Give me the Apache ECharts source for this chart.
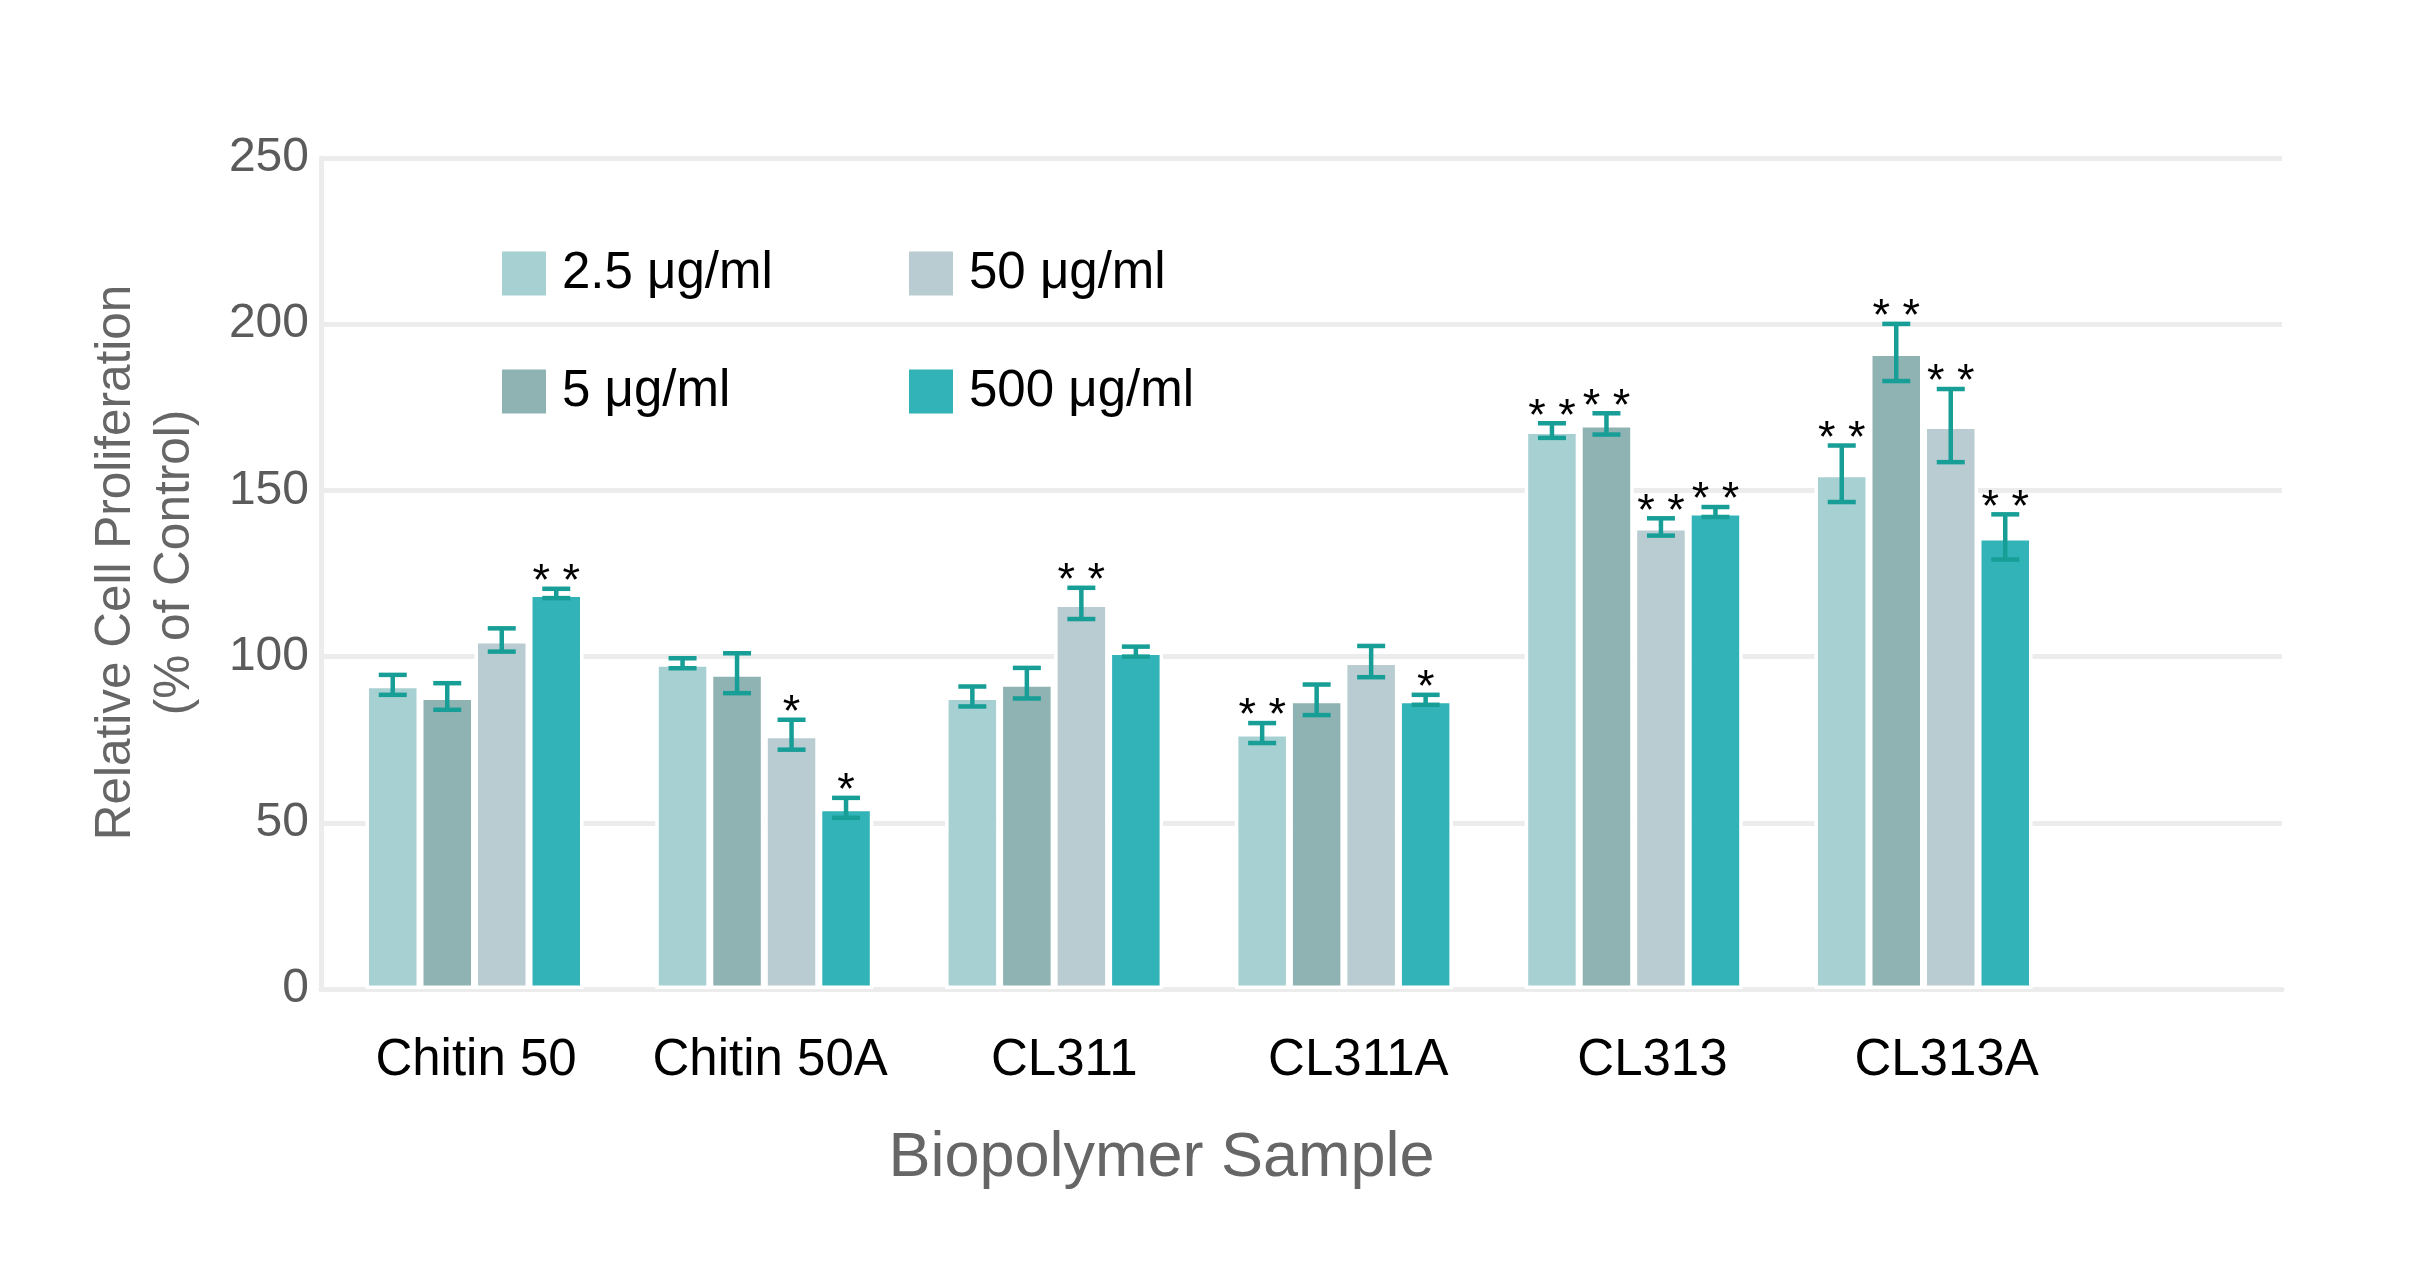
<!DOCTYPE html>
<html>
<head>
<meta charset="utf-8">
<script src="https://cdn.jsdelivr.net/npm/echarts@6/dist/echarts.min.js"></script>
<style>
html,body{margin:0;padding:0;background:#fff;}
#chart{width:2422px;height:1288px;}
</style>
</head>
<body>
<div id="chart"></div>
<script>
const categories = ['Chitin 50', 'Chitin 50A', 'CL311', 'CL311A', 'CL313', 'CL313A'];
const seriesNames = ['2.5 μg/ml', '5 μg/ml', '50 μg/ml', '500 μg/ml'];
const yTicks = [0, 50, 100, 150, 200, 250];

const v25  = [91.5, 98, 88, 77, 168, 155];
const e25  = [3, 1.5, 3, 3, 2.2, 8.5];
const s25  = ['', '', '', '**', '**', '**'];

const v5   = [88, 95, 92, 87, 170, 191.5];
const e5   = [4, 6, 4.6, 4.6, 3.2, 8.6];
const s5   = ['', '', '', '', '**', '**'];

const v50  = [105, 76.5, 116, 98.5, 139, 169.5];
const e50  = [3.5, 4.5, 4.7, 4.7, 2.6, 11];
const s50  = ['', '*', '**', '', '**', '**'];

const v500 = [119, 54.5, 101.5, 87, 143.5, 136];
const e500 = [1.4, 3, 1.5, 1.5, 1.5, 6.8];
const s500 = ['**', '*', '', '*', '**', '**'];

const values = [v25, v5, v50, v500];
const errors = [e25, e5, e50, e500];
const sigs = [s25, s5, s50, s500];
const colors = ['#a6d0d1', '#8fb3b2', '#b9ccd1', '#31b3b8'];

const BAR_W = 54.5;
const ERR_COLOR = '#179e97';
const FONT = '"Liberation Sans", Arial, Helvetica, sans-serif';

const chart = echarts.init(document.getElementById('chart'));

const series = [];
values.forEach((vals, i) => {
  series.push({
    name: seriesNames[i],
    type: 'bar',
    xAxisIndex: 0,
    yAxisIndex: 0,
    data: vals,
    barWidth: BAR_W,
    barGap: '0%',
    itemStyle: { color: colors[i], borderColor: '#ffffff', borderWidth: 3.5 },
    emphasis: { disabled: true },
    z: 2
  });
});
values.forEach((vals, i) => {
  series.push({
    name: seriesNames[i],
    type: 'custom',
    xAxisIndex: 0,
    yAxisIndex: 0,
    data: vals.map((v, k) => [k, v, errors[i][k]]),
    z: 5,
    silent: true,
    renderItem: function (params, api) {
      const k = api.value(0);
      const v = api.value(1);
      const e = api.value(2);
      const sig = sigs[i][k];
      const off = (i - 1.5) * BAR_W;
      const top = api.coord([k, v + e]);
      const bot = api.coord([k, v - e]);
      const x = top[0] + off;
      const cap = 14;
      const st = { stroke: ERR_COLOR, lineWidth: 4.5 };
      const children = [
        { type: 'line', shape: { x1: x, y1: top[1], x2: x, y2: bot[1] }, style: st },
        { type: 'line', shape: { x1: x - cap, y1: top[1], x2: x + cap, y2: top[1] }, style: st },
        { type: 'line', shape: { x1: x - cap, y1: bot[1], x2: x + cap, y2: bot[1] }, style: st }
      ];
      if (sig) {
        children.push({
          type: 'text',
          style: {
            x: x, y: top[1] - 6,
            text: sig.split('').join(' '),
            fill: '#000',
            font: '45px ' + FONT,
            align: 'center',
            verticalAlign: 'middle'
          }
        });
      }
      return { type: 'group', children: children };
    }
  });
});

const legendText = { fontSize: 51, color: '#000', fontFamily: FONT, padding: [0, 0, 0, 11] };

const option = {
  backgroundColor: '#ffffff',
  animation: false,
  textStyle: { fontFamily: FONT },
  legend: [
    {
      data: [seriesNames[0], seriesNames[1]],
      orient: 'vertical',
      left: 497, top: 243,
      itemWidth: 44, itemHeight: 44, itemGap: 67,
      icon: 'rect',
      itemStyle: { borderWidth: 0 },
      textStyle: legendText,
      selectedMode: false
    },
    {
      data: [seriesNames[2], seriesNames[3]],
      orient: 'vertical',
      left: 904, top: 243,
      itemWidth: 44, itemHeight: 44, itemGap: 67,
      icon: 'rect',
      itemStyle: { borderWidth: 0 },
      textStyle: legendText,
      selectedMode: false
    }
  ],
  grid: [
    { left: 329.6, right: 2422 - 2068.4, top: 158, bottom: 1288 - 989, containLabel: false },
    { left: 321, right: 2422 - 2282, top: 158, bottom: 1288 - 989, containLabel: false },
    { left: 329, right: 2422 - 2093.6, top: 158, bottom: 1288 - 989, containLabel: false }
  ],
  xAxis: [
    {
      type: 'category', gridIndex: 0, data: categories,
      axisLine: { show: false }, axisTick: { show: false }, axisLabel: { show: false },
      name: 'Biopolymer Sample', nameLocation: 'middle', nameGap: 138,
      nameTextStyle: { fontSize: 63, color: '#666', fontFamily: FONT, padding: [0, 75, 0, 0] }
    },
    {
      type: 'value', gridIndex: 1, min: 0, max: 1,
      axisLine: { show: true, lineStyle: { color: '#ececec', width: 5 } },
      axisTick: { show: false }, axisLabel: { show: false }, splitLine: { show: false }
    },
    {
      type: 'category', gridIndex: 2, data: categories,
      axisLine: { show: false }, axisTick: { show: false },
      axisLabel: { interval: 0, fontSize: 51, color: '#000', margin: 46, fontFamily: FONT }
    }
  ],
  yAxis: [
    { type: 'value', gridIndex: 0, min: 0, max: 250, interval: 50, show: false },
    {
      type: 'value', gridIndex: 1, min: yTicks[0], max: yTicks[yTicks.length - 1], interval: 50,
      axisLine: { show: true, lineStyle: { color: '#ececec', width: 5 } },
      axisTick: { show: false },
      axisLabel: { fontSize: 48, color: '#5b5b5b', margin: 12, fontFamily: FONT },
      splitLine: { show: true, lineStyle: { color: '#ececec', width: 5 } },
      name: 'Relative Cell Proliferation\n(% of Control)',
      nameLocation: 'middle', nameRotate: 90, nameGap: 116,
      nameTextStyle: { fontSize: 49.5, color: '#666', lineHeight: 59, fontFamily: FONT, padding: [0, 0, 0, 22] }
    },
    { type: 'value', gridIndex: 2, min: 0, max: 250, show: false }
  ],
  series: series
};
chart.setOption(option);
</script>
</body>
</html>
